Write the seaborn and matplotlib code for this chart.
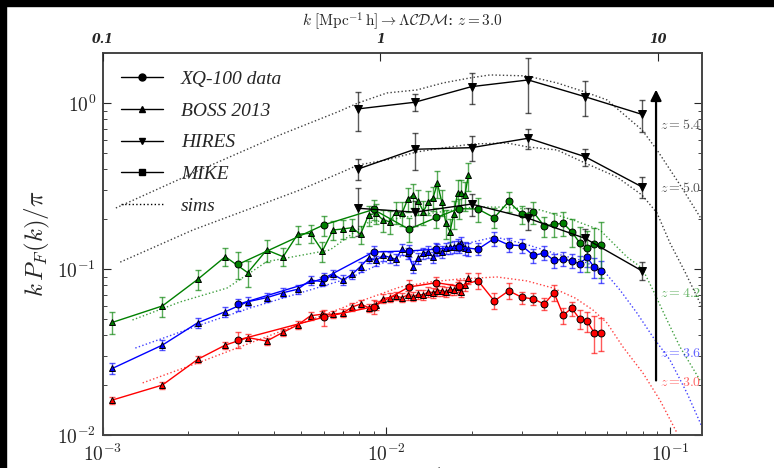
import numpy as np
import matplotlib
matplotlib.use('Agg')
import matplotlib.pyplot as plt
import seaborn as sns
from matplotlib.lines import Line2D
from matplotlib.patches import Rectangle
from matplotlib.ticker import FuncFormatter, FixedLocator, NullLocator, NullFormatter

# ---- dados ----
# BOSS 2013 bins
k_boss = [0.00108, 0.00162, 0.00216, 0.00270, 0.00324, 0.00378, 0.00432, 0.00486, 0.00540,
          0.00594, 0.00648, 0.00702, 0.00756, 0.00810, 0.00864, 0.00918, 0.00972, 0.01026,
          0.01080, 0.01134, 0.01188, 0.01242, 0.01296, 0.01350, 0.01404, 0.01458, 0.01512,
          0.01566, 0.01620, 0.01674, 0.01728, 0.01782, 0.01836, 0.01890, 0.01944]
boss_z42 = [0.0477, 0.0599, 0.0867, 0.1186, 0.0950, 0.1302, 0.1186, 0.1618, 0.1641, 0.1284,
            0.1718, 0.1742, 0.1774, 0.1614, 0.2115, 0.2165, 0.1973, 0.1927, 0.2206, 0.2165,
            0.2630, 0.2791, 0.2551, 0.2215, 0.2540, 0.2667, 0.3284, 0.2540, 0.1893, 0.1677,
            0.2153, 0.2881, 0.2881, 0.2791, 0.3660]
boss_z42_err = [0.0073, 0.0083, 0.0120, 0.0148, 0.0171, 0.0199, 0.0148, 0.0202, 0.0205, 0.0178,
                0.0214, 0.0217, 0.0221, 0.0201, 0.0293, 0.0300, 0.0301, 0.0294, 0.0337, 0.0360,
                0.0438, 0.0464, 0.0424, 0.0369, 0.0423, 0.0444, 0.0592, 0.0458, 0.0368, 0.0326,
                0.0418, 0.0560, 0.0560, 0.0542, 0.0711]
boss_z36 = [0.0252, 0.0348, 0.0475, 0.0553, 0.0635, 0.0672, 0.0720, 0.0755, 0.0858, 0.0839,
            0.0929, 0.0858, 0.0929, 0.1035, 0.1165, 0.1125, 0.1206, 0.1176, 0.1144, 0.1320,
            0.1244, 0.1032, 0.1160, 0.1244, 0.1272, 0.1176, 0.1302, 0.1272, 0.1333, 0.1351,
            0.1362, 0.1395, 0.1428, 0.1333, 0.1320]
boss_z36_err = [0.0018, 0.0024, 0.0032, 0.0036, 0.0040, 0.0042, 0.0045, 0.0047, 0.0053, 0.0052,
                0.0058, 0.0056, 0.0062, 0.0070, 0.0080, 0.0080, 0.0086, 0.0086, 0.0086, 0.0100,
                0.0095, 0.0085, 0.0090, 0.0098, 0.0100, 0.0095, 0.0105, 0.0105, 0.0110, 0.0112,
                0.0115, 0.0118, 0.0122, 0.0116, 0.0116]
boss_z30 = [0.01625, 0.0200, 0.0286, 0.0348, 0.0386, 0.0368, 0.0416, 0.0460, 0.0523, 0.0534,
            0.0534, 0.0543, 0.0590, 0.0615, 0.0586, 0.0603, 0.0664, 0.0673, 0.0688, 0.0672,
            0.0697, 0.0681, 0.0704, 0.0697, 0.0730, 0.0720, 0.0740, 0.0740, 0.0730, 0.0755,
            0.0747, 0.0782, 0.0730, 0.0801, 0.0879]
boss_z30_err = [0.0008, 0.0010, 0.0014, 0.0017, 0.0019, 0.0018, 0.0021, 0.0023, 0.0027, 0.0028,
                0.0028, 0.0029, 0.0032, 0.0034, 0.0033, 0.0035, 0.0039, 0.0040, 0.0042, 0.0042,
                0.0044, 0.0044, 0.0046, 0.0046, 0.0049, 0.0049, 0.0051, 0.0052, 0.0052, 0.0054,
                0.0054, 0.0057, 0.0054, 0.0060, 0.0066]

# XQ-100 bins
k_xq = [0.003, 0.006, 0.009, 0.012, 0.015, 0.018, 0.021, 0.024, 0.027, 0.030,
        0.033, 0.036, 0.039, 0.042, 0.045, 0.048, 0.051, 0.054, 0.057]
xq_z42 = [0.1067, 0.1841, 0.2282, 0.1735, 0.2043, 0.2308, 0.2298, 0.2037, 0.2551, 0.2138,
          0.2195, 0.1816, 0.1859, 0.1885, 0.1677, 0.1440, 0.1333, 0.1414, 0.1395]
xq_z42_err = [0.0192, 0.0256, 0.0317, 0.0288, 0.0284, 0.0321, 0.0381, 0.0283, 0.0355, 0.0267,
              0.0336, 0.0252, 0.0309, 0.0313, 0.0325, 0.0360, 0.0369, 0.0354, 0.0516]
xq_z36 = [0.0613, 0.0877, 0.1266, 0.1284, 0.1315, 0.1357, 0.1315, 0.1526, 0.1395, 0.1382,
          0.1206, 0.1249, 0.1125, 0.1148, 0.1117, 0.1076, 0.1176, 0.1024, 0.0966]
xq_z36_err = [0.0051, 0.0073, 0.0105, 0.0107, 0.0109, 0.0113, 0.0109, 0.0148, 0.0135, 0.0134,
              0.0117, 0.0121, 0.0109, 0.0111, 0.0108, 0.0119, 0.0147, 0.0142, 0.0148]
xq_z30 = [0.0374, 0.0512, 0.0593, 0.0779, 0.0827, 0.0787, 0.0852, 0.0642, 0.0739, 0.0675,
          0.0660, 0.0614, 0.0720, 0.0527, 0.0580, 0.0501, 0.0483, 0.0414, 0.0414]
xq_z30_err = [0.0042, 0.0057, 0.0058, 0.0076, 0.0069, 0.0076, 0.0095, 0.0071, 0.0082, 0.0056,
              0.0055, 0.0051, 0.0080, 0.0058, 0.0056, 0.0063, 0.0067, 0.0104, 0.0092]

# HIRES
k_hires = [0.00794, 0.01259, 0.01995, 0.03162, 0.05012, 0.07943]
hires_z54 = [0.921, 1.010, 1.254, 1.376, 1.091, 0.855]
hires_z54_err = [0.24, 0.12, 0.27, 0.50, 0.26, 0.19]
hires_z50 = [0.400, 0.526, 0.538, 0.613, 0.475, 0.313]
hires_z50_err = [0.058, 0.13, 0.09, 0.085, 0.055, 0.045]
hires_z42 = [0.232, 0.220, 0.246, 0.202, 0.153, 0.0977]
hires_z42_err = [0.075, 0.038, 0.037, 0.030, 0.020, 0.012]

# simulacoes
sim54_k = [0.00111, 0.00220, 0.00421, 0.00686, 0.00794, 0.01004, 0.01281, 0.01583, 0.01971,
           0.02318, 0.03131, 0.03995, 0.05014, 0.05995, 0.07966, 0.0900, 0.1085, 0.1297]
sim54_p = [0.233, 0.395, 0.642, 0.895, 1.000, 1.149, 1.198, 1.320, 1.415,
           1.475, 1.455, 1.320, 1.165, 1.043, 0.688, 0.521, 0.321, 0.197]
sim50_k = [0.00115, 0.00208, 0.00358, 0.00495, 0.00686, 0.00794, 0.01004, 0.01281, 0.01583, 0.02003,
           0.02661, 0.03156, 0.03995, 0.05014, 0.06502, 0.07966, 0.0900, 0.1000, 0.1130, 0.1297]
sim50_p = [0.110, 0.172, 0.243, 0.299, 0.379, 0.423, 0.454, 0.507, 0.536, 0.566,
           0.574, 0.543, 0.521, 0.435, 0.358, 0.279, 0.2175, 0.1434, 0.0959, 0.0590]
sim42_k = [0.00127, 0.00187, 0.00274, 0.00378, 0.00632, 0.00854, 0.01313, 0.02019, 0.02514,
           0.03478, 0.04549, 0.05662, 0.07054, 0.07966, 0.08710, 0.09759, 0.1085, 0.1276]
sim42_p = [0.0493, 0.0633, 0.0768, 0.1107, 0.1302, 0.1893, 0.2115, 0.236, 0.236,
           0.227, 0.1973, 0.1718, 0.1181, 0.1014, 0.0747, 0.0493, 0.0339, 0.0214]
sim36_k = [0.00130, 0.00220, 0.00330, 0.00495, 0.00743, 0.00949, 0.01313, 0.01816, 0.02414,
           0.03080, 0.03995, 0.04814, 0.05802, 0.06662, 0.07648, 0.08710, 0.1000, 0.1148, 0.1297]
sim36_p = [0.0334, 0.0460, 0.0582, 0.0717, 0.0883, 0.1072, 0.1302, 0.1395, 0.1559,
           0.1414, 0.1231, 0.1133, 0.0986, 0.0747, 0.0543, 0.0389, 0.0283, 0.0179, 0.0112]
sim30_k = [0.00138, 0.00220, 0.00330, 0.00495, 0.00743, 0.01116, 0.01423, 0.01816, 0.02453,
           0.03131, 0.03867, 0.04623, 0.05350, 0.05995, 0.06827, 0.08031, 0.09220, 0.10585]
sim30_p = [0.0206, 0.0275, 0.0358, 0.0466, 0.0607, 0.0779, 0.0835, 0.0871, 0.0895,
           0.0847, 0.0768, 0.0669, 0.0566, 0.0473, 0.0339, 0.0236, 0.0162, 0.0103]

z_labels = ['$z = 5.4$', '$z = 5.0$', '$z = 4.2$', '$z = 3.6$', '$z = 3.0$']
z_label_y = [0.737, 0.308, 0.0717, 0.0312, 0.0209]
z_label_cols = ['#555555', '#555555', (0, 0.5, 0, 0.6), (0, 0, 1, 0.6), (1, 0, 0, 0.6)]

# ---- estilo ----
sns.set_style('ticks')
plt.rcParams['font.family'] = ['DejaVu Serif']
plt.rcParams['mathtext.fontset'] = 'cm'
plt.rcParams['xtick.direction'] = 'in'
plt.rcParams['ytick.direction'] = 'in'

GREEN = (0, 0.5, 0)
BLUE = (0, 0, 1)
RED = (1, 0, 0)

fig = plt.figure(figsize=(7.74, 4.68), dpi=100)
ax = fig.add_axes([0.1331, 0.0705, 0.7735, 0.8163])
ax.set_xscale('log')
ax.set_yscale('log')


def sims(k, p, col):
    sns.lineplot(x=k, y=p, color=col, linestyle=':', lw=1, alpha=0.75, ax=ax,
                 sort=False, estimator=None, legend=False, zorder=1)


def dados(k, p, err, col, mk, ms):
    ax.errorbar(k, p, yerr=err, fmt='none', ecolor=col, elinewidth=1, capsize=2.5,
                capthick=1, alpha=0.65, zorder=2)
    sns.lineplot(x=k, y=p, color=col, marker=mk, markersize=ms, markeredgecolor='k',
                 markerfacecolor=col, markeredgewidth=0.7, lw=1, ax=ax,
                 sort=False, estimator=None, legend=False, zorder=3)


sims(sim54_k, sim54_p, 'k')
sims(sim50_k, sim50_p, 'k')
sims(sim42_k, sim42_p, GREEN)
sims(sim36_k, sim36_p, BLUE)
sims(sim30_k, sim30_p, RED)

dados(k_boss, boss_z30, boss_z30_err, RED, '^', 4.5)
dados(k_xq, xq_z30, xq_z30_err, RED, 'o', 5)
dados(k_boss, boss_z36, boss_z36_err, BLUE, '^', 4.5)
dados(k_xq, xq_z36, xq_z36_err, BLUE, 'o', 5)
dados(k_boss, boss_z42, boss_z42_err, GREEN, '^', 4.5)
dados(k_xq, xq_z42, xq_z42_err, GREEN, 'o', 5)
dados(k_hires, hires_z42, hires_z42_err, 'k', 'v', 5.5)
dados(k_hires, hires_z50, hires_z50_err, 'k', 'v', 5.5)
dados(k_hires, hires_z54, hires_z54_err, 'k', 'v', 5.5)

ax.set_xlim(1e-3, 0.1294)
ax.set_ylim(0.01, 2.0)

# seta de redshift
ax.annotate('', xy=(0.0893, 1.25), xytext=(0.0893, 0.0205),
            arrowprops=dict(arrowstyle='-|>', color='k', lw=1.6, mutation_scale=16))
for lab, yv, c in zip(z_labels, z_label_y, z_label_cols):
    ax.text(0.999, yv, lab, color=c, fontsize=10, ha='right', va='center',
            transform=ax.get_yaxis_transform())

fmt = FuncFormatter(lambda v, pos: r'$10^{%d}$' % int(round(np.log10(v))))
ax.xaxis.set_major_formatter(fmt)
ax.yaxis.set_major_formatter(fmt)
ax.xaxis.set_minor_formatter(NullFormatter())
ax.yaxis.set_minor_formatter(NullFormatter())
ax.tick_params(which='both', top=True, right=True, labelsize=14)
ax.tick_params(which='major', length=6)
ax.tick_params(which='minor', length=3)
ax.tick_params(axis='y', pad=5)
ax.tick_params(axis='x', pad=6)
for s in ax.spines.values():
    s.set_color('#444444')
    s.set_linewidth(1.4)

ax.set_ylabel(r'$k\,P_F(k)/\pi$', fontsize=18, labelpad=4)
ax.set_xlabel(r'$k\ [\mathrm{s\,km}^{-1}]$', fontsize=16, labelpad=1)

# eixo de cima
ax2 = ax.twiny()
ax2.set_xscale('log')
ax2.set_xlim(0.1, 14.4)
ax2.xaxis.set_major_locator(FixedLocator([0.1, 1, 10]))
ax2.xaxis.set_minor_locator(NullLocator())
ax2.set_xticklabels(['0.1', '1', '10'], fontsize=9, fontstyle='italic', fontweight='bold')
ax2.tick_params(length=6, pad=5)
ax2.set_xlabel(r'$k\ [\mathrm{Mpc}^{-1}\,\mathrm{h}] \rightarrow \Lambda\mathcal{CDM}$: $z = 3.0$',
               fontsize=11, labelpad=5)
for s in ax2.spines.values():
    s.set_visible(False)

# legenda
handles = [
    Line2D([], [], color='k', marker='o', markersize=5, lw=1),
    Line2D([], [], color='k', marker='^', markersize=5, lw=1),
    Line2D([], [], color='k', marker='v', markersize=5, lw=1),
    Line2D([], [], color='k', marker='s', markersize=5, lw=1),
    Line2D([], [], color='k', ls=':', lw=1),
]
ax.legend(handles, ['XQ-100 data', 'BOSS 2013', 'HIRES', 'MIKE', 'sims'],
          loc='upper left', bbox_to_anchor=(0.0, 1.0), frameon=False,
          prop={'family': 'Liberation Serif', 'style': 'italic', 'size': 14},
          handlelength=2.2, labelspacing=0.72, handletextpad=0.9)

# bordas pretas da imagem original
fig.add_artist(Rectangle((0, 1 - 6 / 468), 1, 6 / 468, transform=fig.transFigure,
                         color='k', zorder=10))
fig.add_artist(Rectangle((0, 0), 6 / 774, 1, transform=fig.transFigure, color='k', zorder=10))

fig.savefig('out.png', dpi=100)
